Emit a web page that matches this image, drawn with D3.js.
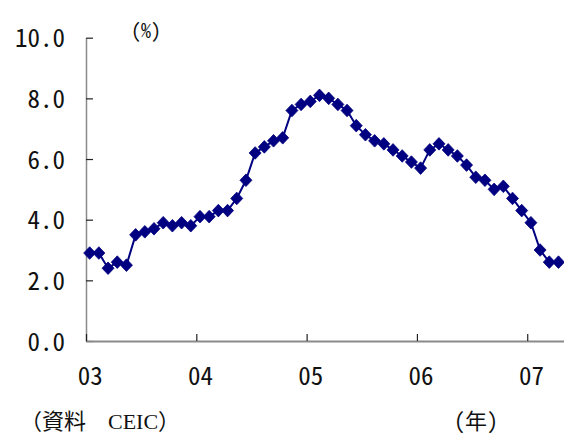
<!DOCTYPE html>
<html>
<head>
<meta charset="utf-8">
<script src="https://cdn.jsdelivr.net/npm/d3@7"></script>
<style>
  html, body { margin: 0; padding: 0; background: #fff; }
  svg { display: block; }
  .gothic { font-family: "Noto Sans CJK JP", "Noto Sans", sans-serif; font-feature-settings: "hwid" 1; }
  .mincho { font-family: "Liberation Serif", "Noto Sans CJK JP", serif; }
</style>
</head>
<body>
<svg id="chart" width="564" height="436"></svg>
<script>
// Monthly rate (%), Jan 2003 – Apr 2007
const values2003 = [2.9, 2.9, 2.4, 2.6, 2.5, 3.5, 3.6, 3.7, 3.9, 3.8, 3.9, 3.8];
const values2004 = [4.1, 4.1, 4.3, 4.3, 4.7, 5.3, 6.2, 6.4, 6.6, 6.7, 7.6, 7.8];
const values2005 = [7.9, 8.1, 8.0, 7.8, 7.6, 7.1, 6.8, 6.6, 6.5, 6.3, 6.1, 5.9];
const values2006 = [5.7, 6.3, 6.5, 6.3, 6.1, 5.8, 5.4, 5.3, 5.0, 5.1, 4.7, 4.3];
const values2007 = [3.9, 3.0, 2.6, 2.6];
const yearLabels = ["03", "04", "05", "06", "07"];
const yTicks = [0, 2, 4, 6, 8, 10];

const series = [...values2003, ...values2004, ...values2005, ...values2006, ...values2007];

const svg = d3.select("#chart");
const plotLeft = 86, plotRight = 564, plotTop = 37.7, plotBottom = 341;
const monthsShown = 52;
const pointOffset = 0.4; // position of a month's point inside its slot

const x = d3.scaleLinear().domain([0, monthsShown]).range([plotLeft, plotRight]);
const y = d3.scaleLinear().domain([0, 10]).range([plotBottom, plotTop]);

// Y axis
const yAxis = svg.append("g")
  .attr("transform", `translate(${plotLeft},0)`)
  .call(d3.axisLeft(y).tickValues(yTicks).tickFormat(d3.format(".1f"))
        .tickSizeInner(-7).tickSizeOuter(0).tickPadding(21));
yAxis.select(".domain").attr("stroke", "#8a8a8a").attr("stroke-width", 1.5);
yAxis.selectAll(".tick line").attr("stroke", "#222").attr("stroke-width", 1.2);
yAxis.selectAll(".tick text")
  .attr("class", "gothic")
  .attr("font-size", 25)
  .attr("fill", "#111")
  .attr("dy", "0.36em");

// X axis: year boundaries every 12 months
const xAxis = svg.append("g")
  .attr("transform", `translate(0,${plotBottom})`)
  .call(d3.axisBottom(x).tickValues(yearLabels.map((_, i) => i * 12))
        .tickFormat((d, i) => yearLabels[i])
        .tickSizeInner(-7).tickSizeOuter(0));
xAxis.select(".domain").attr("stroke", "#8a8a8a").attr("stroke-width", 2);
xAxis.selectAll(".tick line").attr("stroke", "#222").attr("stroke-width", 1.2);
xAxis.selectAll(".tick text")
  .attr("class", "gothic")
  .attr("font-size", 25)
  .attr("fill", "#111")
  .attr("x", x(pointOffset) - x(0))
  .attr("y", 44)
  .attr("dy", 0);

// Line
const line = d3.line()
  .x((d, i) => x(i + pointOffset))
  .y(d => y(d));

svg.append("path")
  .datum(series)
  .attr("fill", "none")
  .attr("stroke", "#000080")
  .attr("stroke-width", 2)
  .attr("d", line);

// Diamond markers
svg.append("g")
  .selectAll("path")
  .data(series)
  .join("path")
  .attr("transform", (d, i) => `translate(${x(i + pointOffset)},${y(d)})`)
  .attr("d", "M0,-6.3L6,0L0,6.3L-6,0Z")
  .attr("fill", "#000080")
  .attr("stroke", "#000080")
  .attr("stroke-width", 0.8);

// Unit and notes
svg.append("text")
  .attr("class", "gothic")
  .attr("x", 131).attr("y", 38)
  .attr("font-size", 20)
  .attr("fill", "#111")
  .text("(%)");

svg.append("text")
  .attr("class", "gothic")
  .attr("x", 476).attr("y", 429)
  .attr("text-anchor", "middle")
  .attr("font-size", 22)
  .attr("fill", "#111")
  .text("（年）");

svg.append("text")
  .attr("class", "mincho")
  .attr("x", 20).attr("y", 429)
  .attr("font-size", 22)
  .attr("fill", "#111")
  .text("（資料　CEIC）");
</script>
</body>
</html>
